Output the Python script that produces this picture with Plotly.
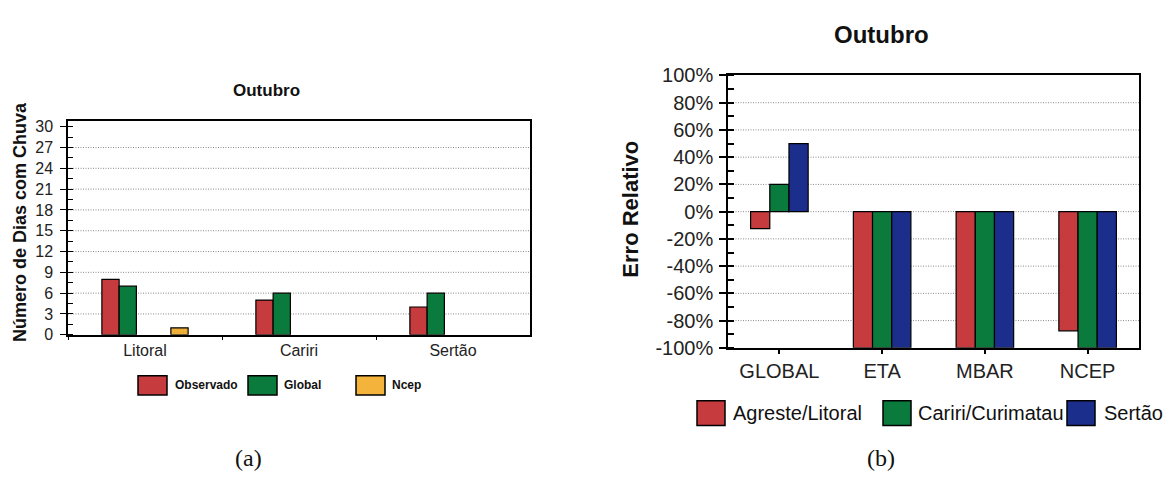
import plotly.graph_objects as go

W, H = 1166, 489

# Panel (a): number of rainy days in October, per region
regioes = ["Litoral", "Cariri", "Sertão"]
observado = [8, 5, 4]
global_modelo = [7, 6, 6]
eta = [0, 0, 0]
mbar = [0, 0, 0]
ncep = [1, 0, 0]
dias_ticks = [0, 3, 6, 9, 12, 15, 18, 21, 24, 27, 30]

# Panel (b): relative error of each model, per region
modelos = ["GLOBAL", "ETA", "MBAR", "NCEP"]
agreste_litoral = [-0.125, -1.0, -1.0, -0.875]
cariri_curimatau = [0.20, -1.0, -1.0, -1.0]
sertao = [0.50, -1.0, -1.0, -1.0]
erro_ticks = [-1.0, -0.8, -0.6, -0.4, -0.2, 0.0, 0.2, 0.4, 0.6, 0.8, 1.0]
erro_ticktext = ["-100%", "-80%", "-60%", "-40%", "-20%", "0%",
                 "20%", "40%", "60%", "80%", "100%"]

RED = "#C63B3D"
GREEN = "#0B7A3D"
BLUE = "#1C2E8C"
ORANGE = "#F4B43C"
FONT = "Arial, Liberation Sans, sans-serif"
GRID = dict(color="#8a8a8a", width=1, dash="1px,1.5px")


def px(x):
    return x / W


def py(y):
    return 1 - y / H


def outline_for(values):
    # zero-height bars get no outline so they leave no stub on the axis
    return dict(color="black", width=[1.2 if v != 0 else 0 for v in values])


fig = go.Figure()

# ---- panel (a) bars
fig.add_bar(x=regioes, y=observado, name="Observado",
            marker=dict(color=RED, line=outline_for(observado)), xaxis="x", yaxis="y")
fig.add_bar(x=regioes, y=global_modelo, name="Global",
            marker=dict(color=GREEN, line=outline_for(global_modelo)), xaxis="x", yaxis="y")
fig.add_bar(x=regioes, y=eta, name="Eta",
            marker=dict(color="white", line=outline_for(eta)), xaxis="x", yaxis="y",
            hoverinfo="skip")
fig.add_bar(x=regioes, y=mbar, name="Mbar",
            marker=dict(color="white", line=outline_for(mbar)), xaxis="x", yaxis="y",
            hoverinfo="skip")
fig.add_bar(x=regioes, y=ncep, name="Ncep",
            marker=dict(color=ORANGE, line=outline_for(ncep),
                        pattern=dict(shape=".", fgcolor="#D0921F", bgcolor=ORANGE,
                                     size=3, solidity=0.3)),
            xaxis="x", yaxis="y")

# ---- panel (b) bars
fig.add_bar(x=modelos, y=agreste_litoral, name="Agreste/Litoral",
            marker=dict(color=RED, line=outline_for(agreste_litoral)), xaxis="x2", yaxis="y2")
fig.add_bar(x=modelos, y=cariri_curimatau, name="Cariri/Curimatau",
            marker=dict(color=GREEN, line=outline_for(cariri_curimatau)), xaxis="x2", yaxis="y2")
fig.add_bar(x=modelos, y=sertao, name="Sertão",
            marker=dict(color=BLUE, line=outline_for(sertao)), xaxis="x2", yaxis="y2")

fig.update_traces(showlegend=False)

axis_line = dict(showline=True, linecolor="black", linewidth=1.5, mirror=True,
                 showgrid=False, zeroline=False)
bare = dict(showticklabels=False, showline=False, showgrid=False, zeroline=False,
            layer="below traces")

fig.update_layout(
    width=W, height=H,
    margin=dict(l=0, r=0, t=0, b=0),
    paper_bgcolor="white", plot_bgcolor="white",
    font=dict(family=FONT, color="black"),
    barmode="group", bargap=0.44, bargroupgap=0,
    showlegend=False,
    # panel (a)
    xaxis=dict(domain=[px(68), px(530)], anchor="y", type="category",
               categoryorder="array", categoryarray=regioes,
               ticks="outside", tickson="boundaries", ticklen=4, tickcolor="black",
               tickwidth=1.2, tickfont=dict(size=16, color="#222"), **axis_line),
    xaxis3=dict(overlaying="x", anchor="y", type="linear", range=[-0.5, 2.5],
                tickmode="array", tickvals=[0.5, 1.5], ticks="inside", ticklen=3,
                tickcolor="black", tickwidth=1.2, **bare),
    yaxis=dict(domain=[py(339), py(115)], anchor="x", range=[0, 30.85],
               tickmode="array", tickvals=dias_ticks,
               ticks="outside", ticklen=6, tickcolor="black", tickwidth=1.2,
               ticklabelstandoff=4,
               minor=dict(tickmode="linear", tick0=0, dtick=1.5, ticks="inside",
                          ticklen=5, tickcolor="black", tickwidth=1.2, showgrid=False),
               tickfont=dict(size=16, color="#222"), **axis_line),
    yaxis3=dict(overlaying="y", anchor="x", side="left", range=[0, 30.85],
                tickmode="array", tickvals=dias_ticks, ticks="inside", ticklen=6,
                tickcolor="black", tickwidth=1.2, **bare),
    # panel (b)
    xaxis2=dict(domain=[px(728), px(1139)], anchor="y2", type="category",
                categoryorder="array", categoryarray=modelos,
                ticks="outside", ticklen=4, tickcolor="black", tickwidth=1.5,
                tickfont=dict(size=20, color="#222"), **axis_line),
    xaxis4=dict(overlaying="x2", anchor="y2", type="linear", range=[-0.5, 3.5],
                tickmode="array", tickvals=[0, 1, 2, 3], ticks="inside", ticklen=6,
                tickcolor="black", tickwidth=1.5, **bare),
    yaxis2=dict(domain=[py(352.7), py(67.5)], anchor="x2", range=[-1, 1],
                tickmode="array", tickvals=erro_ticks, ticktext=erro_ticktext,
                ticks="outside", ticklen=7, tickcolor="black", tickwidth=1.5,
                ticklabelstandoff=2,
                minor=dict(tickmode="linear", tick0=0, dtick=0.1, ticks="inside",
                           ticklen=6, tickcolor="black", tickwidth=1.5, showgrid=False),
                tickfont=dict(size=20, color="#222"), **axis_line),
    yaxis4=dict(overlaying="y2", anchor="x2", side="left", range=[-1, 1],
                tickmode="array", tickvals=erro_ticks, ticks="inside", ticklen=7,
                tickcolor="black", tickwidth=1.5, **bare),
)

# dotted gridlines
shapes = []
for v in dias_ticks[1:-1]:
    shapes.append(dict(type="line", xref="x domain", yref="y", x0=0, x1=1, y0=v, y1=v,
                       line=GRID, layer="below"))
for v in erro_ticks[1:-1]:
    shapes.append(dict(type="line", xref="x2 domain", yref="y2", x0=0, x1=1, y0=v, y1=v,
                       line=GRID, layer="below"))

annotations = []

# legend of panel (a)
leg_a = [("Observado", RED, 138, 173), ("Global", GREEN, 248, 282), ("Ncep", ORANGE, 356, 390)]
for name, color, bx, tx in leg_a:
    shapes.append(dict(type="rect", xref="paper", yref="paper",
                       x0=px(bx), x1=px(bx + 29), y0=py(402), y1=py(382),
                       fillcolor=color, line=dict(color="black", width=1.5)))
    annotations.append(dict(text=name, xref="paper", yref="paper", x=px(tx), y=py(392),
                            xanchor="left", yanchor="middle", showarrow=False,
                            font=dict(size=12, family=FONT, color="#111", weight="bold")))

# legend of panel (b)
leg_b = [("Agreste/Litoral", RED, 697, 731), ("Cariri/Curimatau", GREEN, 883, 916),
         ("Sertão", BLUE, 1067, 1102)]
for name, color, bx, tx in leg_b:
    shapes.append(dict(type="rect", xref="paper", yref="paper",
                       x0=px(bx), x1=px(bx + 28), y0=py(434), y1=py(408),
                       fillcolor=color, line=dict(color="black", width=1.5)))
    annotations.append(dict(text=name, xref="paper", yref="paper", x=px(tx), y=py(421),
                            xanchor="left", yanchor="middle", showarrow=False,
                            font=dict(size=20, family=FONT, color="#111")))

# titles
annotations += [
    dict(text="Outubro", xref="paper", yref="paper", x=px(266), y=py(83),
         xanchor="center", yanchor="middle", showarrow=False,
         font=dict(size=17, family=FONT, weight="bold", color="#111")),
    dict(text="Número de Dias com Chuva", xref="paper", yref="paper", x=px(20), y=py(221),
         xanchor="center", yanchor="middle", showarrow=False, textangle=-90,
         font=dict(size=18, family=FONT, weight="bold", color="#111")),
    dict(text="Outubro", xref="paper", yref="paper", x=px(881), y=py(25),
         xanchor="center", yanchor="middle", showarrow=False,
         font=dict(size=24, family=FONT, weight="bold", color="#111")),
    dict(text="Erro Relativo", xref="paper", yref="paper", x=px(631), y=py(208),
         xanchor="center", yanchor="middle", showarrow=False, textangle=-90,
         font=dict(size=22, family=FONT, weight="bold", color="#111")),
    dict(text="(a)", xref="paper", yref="paper", x=px(248), y=py(468),
         xanchor="center", yanchor="middle", showarrow=False,
         font=dict(size=24, family="Liberation Serif, serif", color="#111")),
    dict(text="(b)", xref="paper", yref="paper", x=px(881), y=py(468),
         xanchor="center", yanchor="middle", showarrow=False,
         font=dict(size=24, family="Liberation Serif, serif", color="#111")),
]

fig.update_layout(shapes=shapes, annotations=annotations)

fig.write_html("out.html")
